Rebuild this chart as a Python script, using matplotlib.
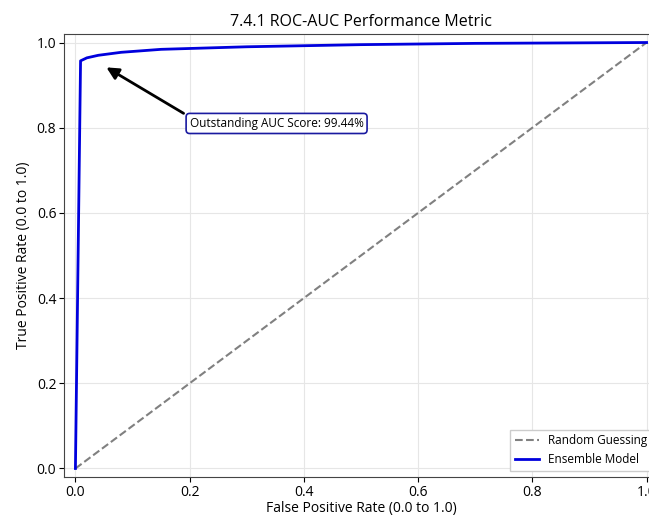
import matplotlib
matplotlib.use("Agg")
import matplotlib.pyplot as plt

plt.rcParams['font.family'] = ['Open Sans', 'DejaVu Sans']

# ROC curve
fpr = [0.0, 0.009, 0.02, 0.04, 0.08, 0.15, 0.3, 0.5, 0.7, 1.0]
tpr = [0.0, 0.957, 0.964, 0.970, 0.977, 0.984, 0.990, 0.995, 0.998, 1.0]
diag_x = [0.0, 1.0]
diag_y = [0.0, 1.0]
auc_text = "Outstanding AUC Score: 99.44%"

fig = plt.figure(figsize=(6.49, 5.15), dpi=100)
# axes run past the right edge of the figure, as in the reference
ax = fig.add_axes([64 / 649, 1 - 477 / 515, 594 / 649, 443 / 515])

ax.plot(diag_x, diag_y, '--', color='gray', lw=1.5, label='Random Guessing')
ax.plot(fpr, tpr, '-', color='#0000dd', lw=2.0, label='Ensemble Model')

ax.set_xlim(-0.02, 1.02)
ax.set_ylim(-0.02, 1.02)
ax.set_xticks([0.0, 0.2, 0.4, 0.6, 0.8, 1.0])
ax.set_yticks([0.0, 0.2, 0.4, 0.6, 0.8, 1.0])
ax.tick_params(labelsize=10, pad=2)
ax.grid(True, color='#e6e6e6', lw=0.8)
for s in ax.spines.values():
    s.set_color('#444444')

ax.set_title("7.4.1 ROC-AUC Performance Metric", fontsize=11.5, pad=6)
ax.set_xlabel("False Positive Rate (0.0 to 1.0)", fontsize=10, labelpad=1)
ax.set_ylabel("True Positive Rate (0.0 to 1.0)", fontsize=10)

ax.annotate(auc_text, xy=(0.05, 0.945), xytext=(0.2, 0.81),
            fontsize=8.5, va='center', ha='left',
            bbox=dict(boxstyle='round,pad=0.3', fc='white', ec='#1a1aa0', lw=1.2),
            arrowprops=dict(arrowstyle='-|>', color='black', lw=2, mutation_scale=18,
                            relpos=(0, 1)))

ax.legend(loc='lower right', fontsize=8.5, framealpha=1, edgecolor='#cccccc',
          fancybox=False)

fig.savefig('out.png', dpi=100)
